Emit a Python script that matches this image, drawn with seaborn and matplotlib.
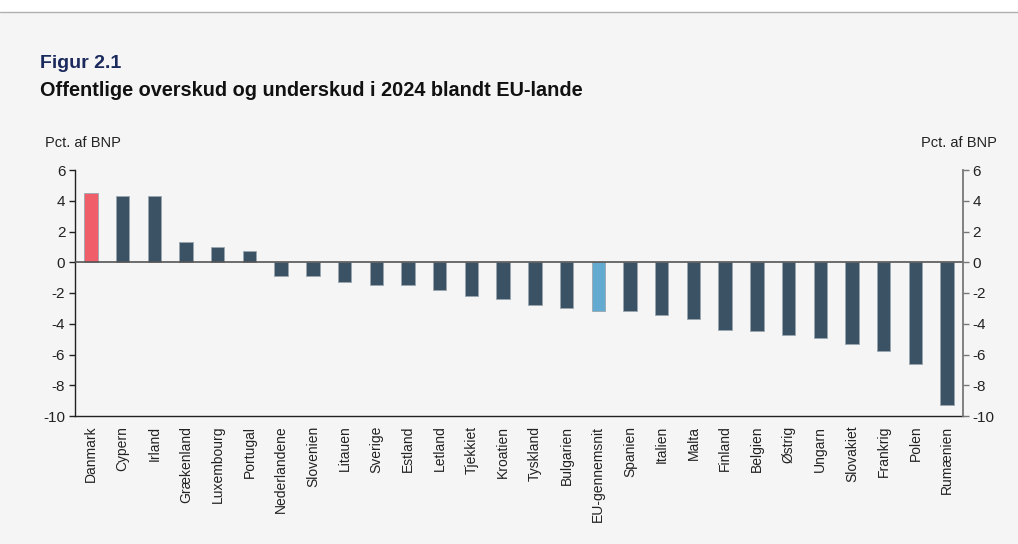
import matplotlib
matplotlib.use("Agg")
import matplotlib.pyplot as plt
import seaborn as sns
import numpy as np
from matplotlib.patches import Rectangle
from matplotlib.lines import Line2D

countries = ["Danmark", "Cypern", "Irland", "Grækenland", "Luxembourg", "Portugal",
             "Nederlandene", "Slovenien", "Litauen", "Sverige", "Estland", "Letland",
             "Tjekkiet", "Kroatien", "Tyskland", "Bulgarien", "EU-gennemsnit", "Spanien",
             "Italien", "Malta", "Finland", "Belgien", "Østrig", "Ungarn", "Slovakiet",
             "Frankrig", "Polen", "Rumænien"]
values = [4.5, 4.3, 4.3, 1.3, 1.0, 0.7, -0.9, -0.9, -1.3, -1.5, -1.5, -1.8,
          -2.2, -2.4, -2.8, -3.0, -3.2, -3.2, -3.4, -3.7, -4.4, -4.5, -4.7, -4.9,
          -5.3, -5.8, -6.6, -9.3]
yticks = [6, 4, 2, 0, -2, -4, -6, -8, -10]

DARK = "#3b5264"
RED = "#ef5e69"
LIGHT = "#62aad0"
palette = {c: DARK for c in countries}
palette["Danmark"] = RED
palette["EU-gennemsnit"] = LIGHT

sns.set_theme(style="white")
plt.rcParams['font.family'] = ['Liberation Sans', 'DejaVu Sans']

fig = plt.figure(figsize=(10.18, 5.44), dpi=100)
fig.patch.set_facecolor("white")
fig.add_artist(Rectangle((0, 0), 1, 1 - 13 / 544, transform=fig.transFigure,
                         facecolor="#f5f5f5", edgecolor="none", zorder=0))
fig.add_artist(Line2D([0, 1], [1 - 12 / 544, 1 - 12 / 544], transform=fig.transFigure,
                      color="#b0b0b0", lw=1.0, zorder=1))

ax = fig.add_axes([75 / 1018, 1 - 416 / 544, (963 - 75) / 1018, (416 - 170) / 544])
ax.set_facecolor("none")
sns.barplot(x=countries, y=values, hue=countries, palette=palette, legend=False,
            width=0.42, edgecolor="#9aa7b0", linewidth=0.6, ax=ax, saturation=1)

ax.set_xlim(-0.5, len(countries) - 0.5)
ax.set_ylim(-10, 6)
ax.set_yticks(yticks)
ax.set_yticklabels([str(v) for v in yticks], fontsize=11, color="#222222")
ax.axhline(0, color="#555555", lw=1.2, zorder=3)

ax.set_xticks(range(len(countries)))
ax.set_xticklabels(countries, rotation=90, fontsize=10, color="#222222")
ax.tick_params(axis="x", which="major", length=0, pad=7)
ax.set_xticks(np.arange(-0.5, len(countries), 1.0), minor=True)
ax.tick_params(axis="x", which="minor", length=4, width=1, color="#222222", direction="out")
ax.tick_params(axis="y", length=4, width=1, color="#222222", direction="out", left=True, pad=3)
ax.set_xlabel("")
ax.set_ylabel("")

for s in ["top", "right"]:
    ax.spines[s].set_visible(False)
for s in ["left", "bottom"]:
    ax.spines[s].set_color("#222222")
    ax.spines[s].set_linewidth(1.0)

ax2 = ax.twinx()
ax2.set_ylim(-10, 6)
ax2.set_yticks(yticks)
ax2.set_yticklabels([str(v) for v in yticks], fontsize=11, color="#222222")
ax2.tick_params(axis="y", length=4, width=1, color="#777777", direction="out", right=True, pad=3)
for s in ["top", "left", "bottom"]:
    ax2.spines[s].set_visible(False)
ax2.spines["right"].set_color("#777777")
ax2.spines["right"].set_linewidth(1.3)
ax2.grid(False)

fig.text(40 / 1018, 1 - 64 / 544, "Figur 2.1", fontsize=14, fontweight="bold",
         color="#1b2a5c", va="center", ha="left")
fig.text(40 / 1018, 1 - 90 / 544, "Offentlige overskud og underskud i 2024 blandt EU-lande",
         fontsize=14.3, fontweight="bold", color="#111111", va="center", ha="left")
fig.text(45 / 1018, 1 - 143 / 544, "Pct. af BNP", fontsize=10.5, color="#222222",
         va="center", ha="left")
fig.text(997 / 1018, 1 - 143 / 544, "Pct. af BNP", fontsize=10.5, color="#222222",
         va="center", ha="right")

fig.savefig("out.png", dpi=100, facecolor=fig.get_facecolor())
